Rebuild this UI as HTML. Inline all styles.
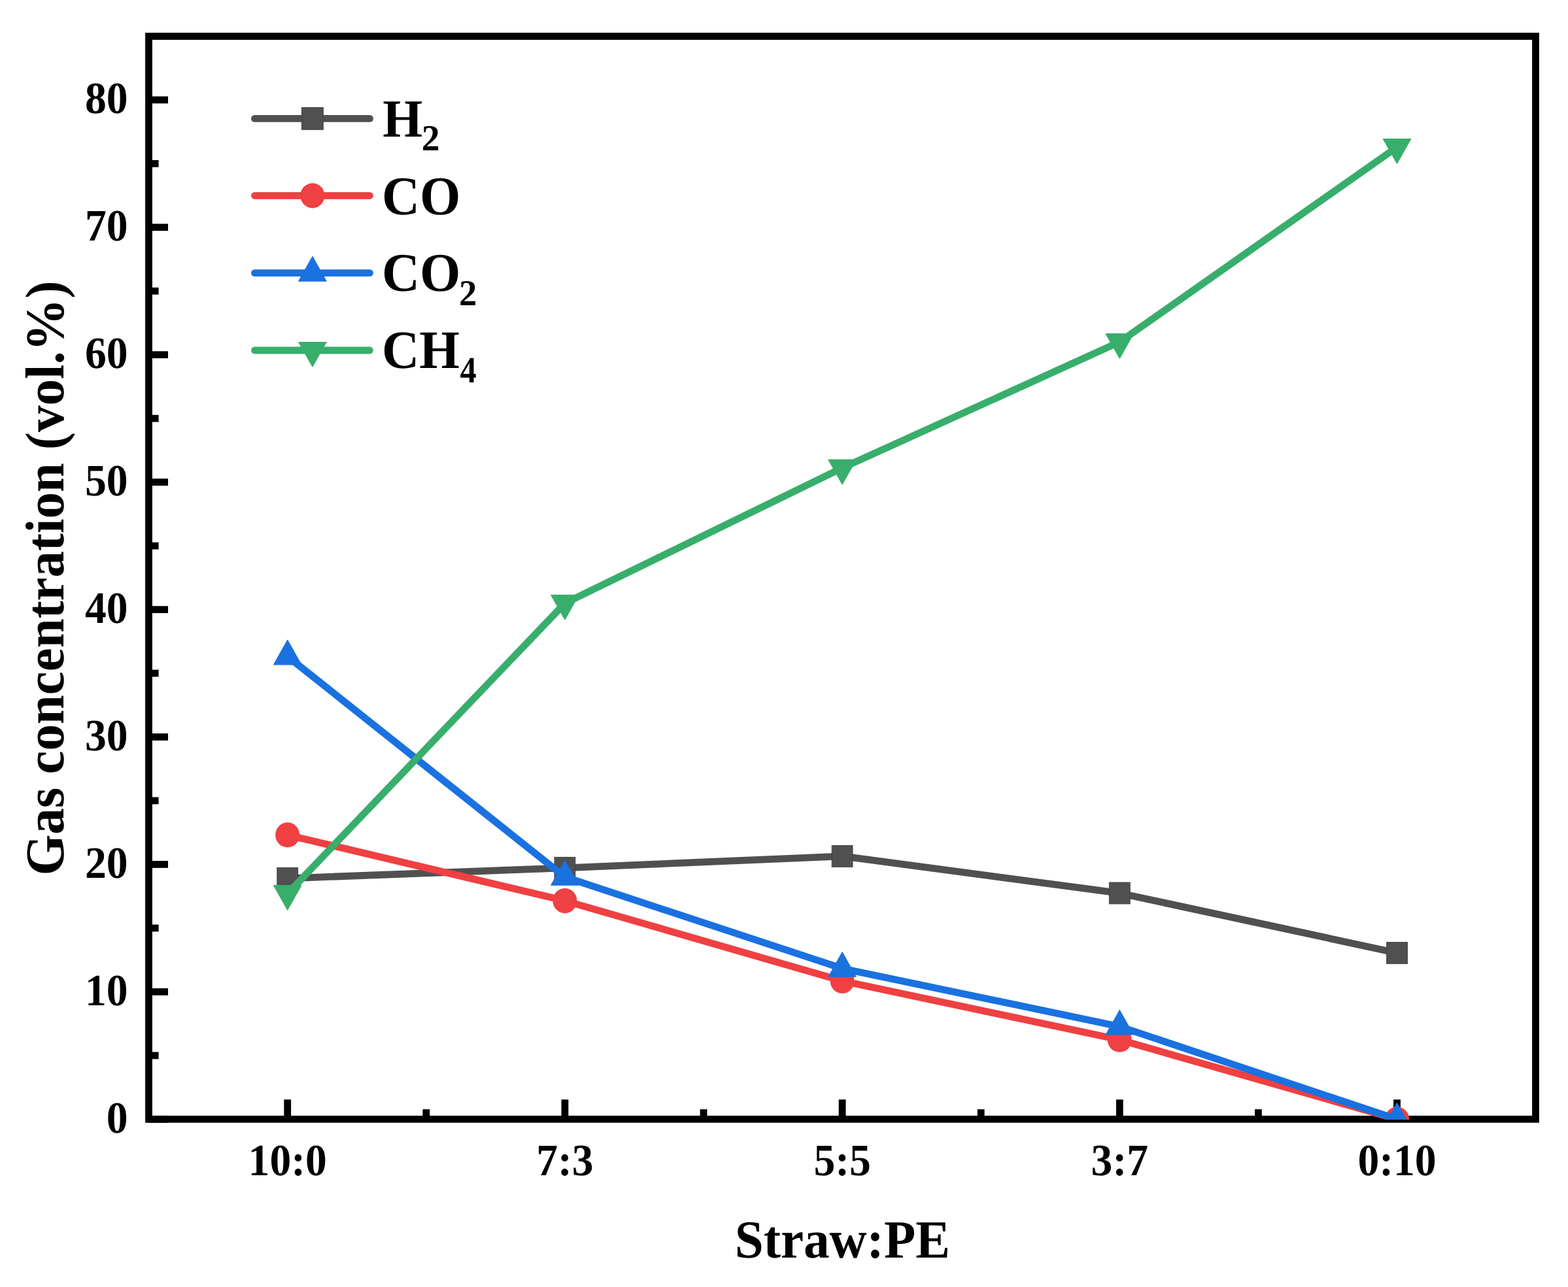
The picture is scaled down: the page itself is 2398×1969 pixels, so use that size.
<!DOCTYPE html>
<html><head><meta charset="utf-8"><title>Gas concentration vs Straw:PE</title>
<style>html,body{margin:0;padding:0;background:#fff;}svg{display:block;}text{text-rendering:geometricPrecision;}</style></head>
<body>
<svg width="2398" height="1969" viewBox="0 0 2398 1969"><rect width="2398" height="1969" fill="#fff"/>
<rect x="227.5" y="55.5" width="2121.0" height="1656.8" fill="none" stroke="#000" stroke-width="10.8" stroke-linejoin="miter"/>
<line x1="227.5" y1="1712.30" x2="257" y2="1712.30" stroke="#000" stroke-width="10.8"/>
<line x1="227.5" y1="1517.37" x2="257" y2="1517.37" stroke="#000" stroke-width="10.8"/>
<line x1="227.5" y1="1322.44" x2="257" y2="1322.44" stroke="#000" stroke-width="10.8"/>
<line x1="227.5" y1="1127.51" x2="257" y2="1127.51" stroke="#000" stroke-width="10.8"/>
<line x1="227.5" y1="932.58" x2="257" y2="932.58" stroke="#000" stroke-width="10.8"/>
<line x1="227.5" y1="737.65" x2="257" y2="737.65" stroke="#000" stroke-width="10.8"/>
<line x1="227.5" y1="542.72" x2="257" y2="542.72" stroke="#000" stroke-width="10.8"/>
<line x1="227.5" y1="347.79" x2="257" y2="347.79" stroke="#000" stroke-width="10.8"/>
<line x1="227.5" y1="152.86" x2="257" y2="152.86" stroke="#000" stroke-width="10.8"/>
<line x1="227.5" y1="1614.84" x2="242.6" y2="1614.84" stroke="#000" stroke-width="10.8"/>
<line x1="227.5" y1="1419.90" x2="242.6" y2="1419.90" stroke="#000" stroke-width="10.8"/>
<line x1="227.5" y1="1224.97" x2="242.6" y2="1224.97" stroke="#000" stroke-width="10.8"/>
<line x1="227.5" y1="1030.05" x2="242.6" y2="1030.05" stroke="#000" stroke-width="10.8"/>
<line x1="227.5" y1="835.12" x2="242.6" y2="835.12" stroke="#000" stroke-width="10.8"/>
<line x1="227.5" y1="640.18" x2="242.6" y2="640.18" stroke="#000" stroke-width="10.8"/>
<line x1="227.5" y1="445.26" x2="242.6" y2="445.26" stroke="#000" stroke-width="10.8"/>
<line x1="227.5" y1="250.33" x2="242.6" y2="250.33" stroke="#000" stroke-width="10.8"/>
<line x1="439.70" y1="1712.3" x2="439.70" y2="1682.2" stroke="#000" stroke-width="10.8"/>
<line x1="863.90" y1="1712.3" x2="863.90" y2="1682.2" stroke="#000" stroke-width="10.8"/>
<line x1="1288.10" y1="1712.3" x2="1288.10" y2="1682.2" stroke="#000" stroke-width="10.8"/>
<line x1="1712.30" y1="1712.3" x2="1712.30" y2="1682.2" stroke="#000" stroke-width="10.8"/>
<line x1="2136.50" y1="1712.3" x2="2136.50" y2="1682.2" stroke="#000" stroke-width="10.8"/>
<line x1="651.80" y1="1712.3" x2="651.80" y2="1697.1" stroke="#000" stroke-width="10.8"/>
<line x1="1076.00" y1="1712.3" x2="1076.00" y2="1697.1" stroke="#000" stroke-width="10.8"/>
<line x1="1500.20" y1="1712.3" x2="1500.20" y2="1697.1" stroke="#000" stroke-width="10.8"/>
<line x1="1924.40" y1="1712.3" x2="1924.40" y2="1697.1" stroke="#000" stroke-width="10.8"/>
<text transform="matrix(1 0 0 1.0456 162.70 1732.80)" font-size="65.6" font-family="Liberation Serif, serif" font-weight="bold">0</text>
<text transform="matrix(1 0 0 1.0456 129.90 1537.87)" font-size="65.6" font-family="Liberation Serif, serif" font-weight="bold">10</text>
<text transform="matrix(1 0 0 1.0456 129.90 1342.94)" font-size="65.6" font-family="Liberation Serif, serif" font-weight="bold">20</text>
<text transform="matrix(1 0 0 1.0456 129.90 1148.01)" font-size="65.6" font-family="Liberation Serif, serif" font-weight="bold">30</text>
<text transform="matrix(1 0 0 1.0456 129.90 953.08)" font-size="65.6" font-family="Liberation Serif, serif" font-weight="bold">40</text>
<text transform="matrix(1 0 0 1.0456 129.90 758.15)" font-size="65.6" font-family="Liberation Serif, serif" font-weight="bold">50</text>
<text transform="matrix(1 0 0 1.0456 129.90 563.22)" font-size="65.6" font-family="Liberation Serif, serif" font-weight="bold">60</text>
<text transform="matrix(1 0 0 1.0456 129.90 368.29)" font-size="65.6" font-family="Liberation Serif, serif" font-weight="bold">70</text>
<text transform="matrix(1 0 0 1.0456 129.90 173.36)" font-size="65.6" font-family="Liberation Serif, serif" font-weight="bold">80</text>
<text transform="matrix(1 0 0 1.0456 379.58 1798.1)" font-size="65.6" font-family="Liberation Serif, serif" font-weight="bold">10:0</text>
<text transform="matrix(1 0 0 1.0456 820.18 1798.1)" font-size="65.6" font-family="Liberation Serif, serif" font-weight="bold">7:3</text>
<text transform="matrix(1 0 0 1.0456 1244.38 1798.1)" font-size="65.6" font-family="Liberation Serif, serif" font-weight="bold">5:5</text>
<text transform="matrix(1 0 0 1.0456 1668.58 1798.1)" font-size="65.6" font-family="Liberation Serif, serif" font-weight="bold">3:7</text>
<text transform="matrix(1 0 0 1.0456 2076.38 1798.1)" font-size="65.6" font-family="Liberation Serif, serif" font-weight="bold">0:10</text>
<text transform="matrix(1 0 0 1.0377 1123.69 1923.90)" font-size="79.03" font-family="Liberation Serif, serif" font-weight="bold">Straw:PE</text>
<text transform="translate(97.40 1339.61) rotate(-90) scale(1 1.0364)" font-size="80.92" font-family="Liberation Serif, serif" font-weight="bold">Gas concentration (vol.%)</text>
<defs><clipPath id="pc"><rect x="227.5" y="55.5" width="2121.0" height="1657.3999999999999"/></clipPath></defs>
<g clip-path="url(#pc)">
<polyline points="439.70,1343.84 863.90,1327.84 1288.10,1309.95 1712.30,1366.45 2136.50,1457.95" fill="none" stroke="#505050" stroke-width="10.8" stroke-linejoin="round" stroke-linecap="round"/>
<rect x="423.80" y="1327.44" width="31.80" height="32.80" fill="#505050" stroke="#444" stroke-width="1"/>
<rect x="848.00" y="1311.44" width="31.80" height="32.80" fill="#505050" stroke="#444" stroke-width="1"/>
<rect x="1272.20" y="1293.55" width="31.80" height="32.80" fill="#505050" stroke="#444" stroke-width="1"/>
<rect x="1696.40" y="1350.05" width="31.80" height="32.80" fill="#505050" stroke="#444" stroke-width="1"/>
<rect x="2120.60" y="1441.55" width="31.80" height="32.80" fill="#505050" stroke="#444" stroke-width="1"/>
<polyline points="439.70,1277.45 863.90,1378.07 1288.10,1500.75 1712.30,1590.70 2136.50,1712.30" fill="none" stroke="#EF4042" stroke-width="10.8" stroke-linejoin="round" stroke-linecap="round"/>
<ellipse cx="439.70" cy="1277.45" rx="18.55" ry="19.1" fill="#EF4042"/>
<ellipse cx="863.90" cy="1378.07" rx="18.55" ry="19.1" fill="#EF4042"/>
<ellipse cx="1288.10" cy="1500.75" rx="18.55" ry="19.1" fill="#EF4042"/>
<ellipse cx="1712.30" cy="1590.70" rx="18.55" ry="19.1" fill="#EF4042"/>
<ellipse cx="2136.50" cy="1712.30" rx="18.55" ry="19.1" fill="#EF4042"/>
<polyline points="439.70,1004.30 863.90,1341.70 1288.10,1481.75 1712.30,1570.50 2136.50,1712.45" fill="none" stroke="#1A71E0" stroke-width="10.8" stroke-linejoin="round" stroke-linecap="round"/>
<polygon points="439.70,979.30 460.80,1016.80 418.60,1016.80" fill="#1A71E0" stroke="#1A71E0" stroke-width="1.2" stroke-linejoin="round"/>
<polygon points="863.90,1316.70 885.00,1354.20 842.80,1354.20" fill="#1A71E0" stroke="#1A71E0" stroke-width="1.2" stroke-linejoin="round"/>
<polygon points="1288.10,1456.75 1309.20,1494.25 1267.00,1494.25" fill="#1A71E0" stroke="#1A71E0" stroke-width="1.2" stroke-linejoin="round"/>
<polygon points="1712.30,1545.50 1733.40,1583.00 1691.20,1583.00" fill="#1A71E0" stroke="#1A71E0" stroke-width="1.2" stroke-linejoin="round"/>
<polygon points="2136.50,1687.45 2157.60,1724.95 2115.40,1724.95" fill="#1A71E0" stroke="#1A71E0" stroke-width="1.2" stroke-linejoin="round"/>
<polyline points="439.70,1367.15 863.90,922.90 1288.10,715.90 1712.30,523.20 2136.50,225.20" fill="none" stroke="#38AE6C" stroke-width="10.8" stroke-linejoin="round" stroke-linecap="round"/>
<polygon points="439.70,1392.15 460.80,1354.65 418.60,1354.65" fill="#38AE6C" stroke="#38AE6C" stroke-width="1.2" stroke-linejoin="round"/>
<polygon points="863.90,947.90 885.00,910.40 842.80,910.40" fill="#38AE6C" stroke="#38AE6C" stroke-width="1.2" stroke-linejoin="round"/>
<polygon points="1288.10,740.90 1309.20,703.40 1267.00,703.40" fill="#38AE6C" stroke="#38AE6C" stroke-width="1.2" stroke-linejoin="round"/>
<polygon points="1712.30,548.20 1733.40,510.70 1691.20,510.70" fill="#38AE6C" stroke="#38AE6C" stroke-width="1.2" stroke-linejoin="round"/>
<polygon points="2136.50,250.20 2157.60,212.70 2115.40,212.70" fill="#38AE6C" stroke="#38AE6C" stroke-width="1.2" stroke-linejoin="round"/>
</g>
<line x1="389.4" y1="181.4" x2="565.5" y2="181.4" stroke="#505050" stroke-width="10.8" stroke-linecap="round"/>
<rect x="461.47" y="164.47" width="32.85" height="33.85" fill="#505050" stroke="#444" stroke-width="1"/>
<line x1="389.4" y1="299.3" x2="565.5" y2="299.3" stroke="#EF4042" stroke-width="10.8" stroke-linecap="round"/>
<ellipse cx="477.90" cy="299.30" rx="18.55" ry="19.1" fill="#EF4042"/>
<line x1="389.4" y1="417.6" x2="565.5" y2="417.6" stroke="#1A71E0" stroke-width="10.8" stroke-linecap="round"/>
<polygon points="477.90,392.60 499.00,430.10 456.80,430.10" fill="#1A71E0" stroke="#1A71E0" stroke-width="1.2" stroke-linejoin="round"/>
<line x1="389.4" y1="536.0" x2="565.5" y2="536.0" stroke="#38AE6C" stroke-width="10.8" stroke-linecap="round"/>
<polygon points="477.90,561.00 499.00,523.50 456.80,523.50" fill="#38AE6C" stroke="#38AE6C" stroke-width="1.2" stroke-linejoin="round"/>
<text transform="matrix(1 0 0 1.0468 585.16 209.10)" font-size="78.35" font-family="Liberation Serif, serif" font-weight="bold">H</text>
<text transform="matrix(1 0 0 1.0108 644.66 229.75)" font-size="55.66" font-family="Liberation Serif, serif" font-weight="bold">2</text>
<text transform="matrix(1 0 0 1.0449 583.98 327.60)" font-size="80.22" font-family="Liberation Serif, serif" font-weight="bold">CO</text>
<text transform="matrix(1 0 0 1.0411 583.98 445.40)" font-size="80.22" font-family="Liberation Serif, serif" font-weight="bold">CO</text>
<text transform="matrix(1 0 0 1.0231 702.00 466.75)" font-size="54.69" font-family="Liberation Serif, serif" font-weight="bold">2</text>
<text transform="matrix(1 0 0 1.0443 584.03 563.20)" font-size="79.26" font-family="Liberation Serif, serif" font-weight="bold">CH</text>
<text transform="matrix(1 0 0 1.1202 703.61 584.50)" font-size="50.45" font-family="Liberation Serif, serif" font-weight="bold">4</text></svg>
</body></html>
